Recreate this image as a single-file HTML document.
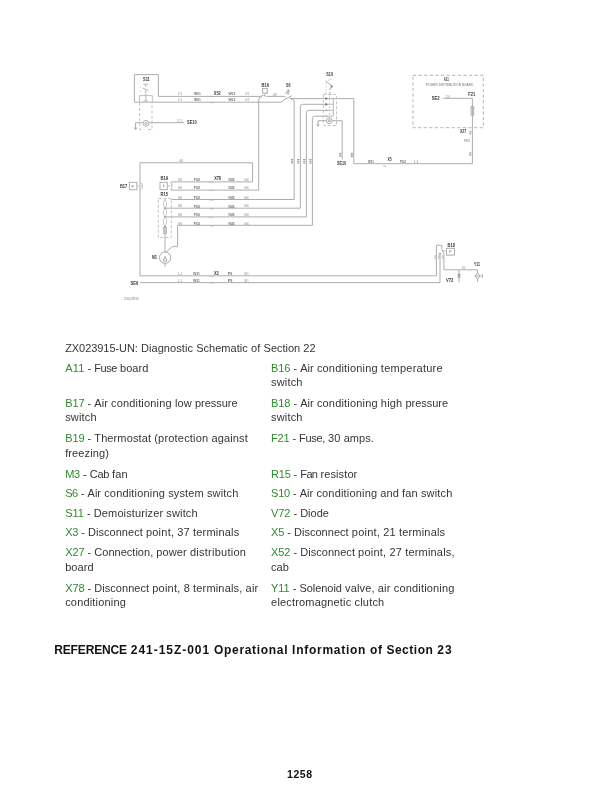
<!DOCTYPE html>
<html><head><meta charset="utf-8"><title>Diagnostic Schematic of Section 22</title>
<style>
html,body{margin:0;padding:0;background:#fff;}
body{width:600px;height:806px;position:relative;overflow:hidden;font-family:"Liberation Sans",sans-serif;}
.sch{position:absolute;left:0;top:0;will-change:transform;}
.t{position:absolute;white-space:pre;font-size:11.0px;line-height:11.0px;color:#353535;}
.g{color:#2e8b2e;}
.w{position:absolute;left:0;top:0;white-space:pre;}
.pg{position:absolute;left:0;top:0;width:600px;height:806px;will-change:transform;}
.h{position:absolute;white-space:pre;font-weight:bold;color:#111;}
</style></head><body><div class="pg">
<svg class="sch" width="600" height="320" viewBox="0 0 600 320"><g fill="none" stroke-linecap="butt"><path d="M134.4 102.2 V74.6 H158.4 V96.4 H260.5" stroke="#adadad" stroke-width="1.0"/>
<path d="M134.4 102.2 H280.5 Q283 102.2 284.2 99.6" stroke="#adadad" stroke-width="1.0"/>
<path d="M139.4 102 V95.6 H152.3 V102 M145.8 95.6 V102 M143.5 102 L145.8 99.5 L148.2 102" stroke="#bdbdbd" stroke-width="1.0"/>
<path d="M145.8 95.6 V93.6 M143.4 84.2 H148 M145.7 84.5 V87 M142.5 88 L148.5 90.5 M145.7 90.5 V93" stroke="#b5b5b5" stroke-width="1.0"/>
<path d="M140 87.2 H141 M140 91 H141" stroke="#c0c0c0" stroke-width="1.0"/>
<path d="M139.7 103 V129.5 H143.5 M148 129.5 H152 V103" stroke="#c0c0c0" stroke-width="1.0" stroke-dasharray="3 2"/>
<circle cx="146" cy="123.3" r="2.9" stroke="#b0b0b0"/>
<circle cx="146" cy="123.3" r="1.6" fill="#c4c4c4" stroke="none"/>
<path d="M135.6 122.7 H143.1 M148.9 122.7 H184" stroke="#adadad" stroke-width="1.0"/>
<path d="M135.6 122.7 V129 M134.4 127.6 L135.6 129.6 L136.8 127.6" stroke="#a8a8a8" stroke-width="1.0"/>
<rect x="262.6" y="88.6" width="4.6" height="4.6" stroke="#aaaaaa" stroke-width="1.0"/>
<path d="M264.9 93.2 V95" stroke="#bdbdbd" stroke-width="1.0"/>
<path d="M260.5 96.4 Q263.3 94.2 266.5 96.4 H285.5" stroke="#adadad" stroke-width="1.0"/>
<path d="M262 96.6 Q258.7 96.8 258.7 100 V190.1 H171" stroke="#adadad" stroke-width="1.0"/>
<path d="M284.2 99.6 L291.5 95.8 M288.2 89 V95 M286.6 91.2 H290 M285.2 93 H288" stroke="#a9a9a9" stroke-width="1.0"/>
<path d="M289.5 98.6 H323.4" stroke="#adadad" stroke-width="1.0"/>
<path d="M290.5 98.6 Q294.2 98.6 294.2 102 V199.5 H171" stroke="#adadad" stroke-width="1.0"/>
<path d="M300.3 208.2 V106.5 Q300.3 104.3 302.5 104.3 H326" stroke="#adadad" stroke-width="1.0"/>
<path d="M306.4 216.9 V112.5 Q306.4 110.3 308.6 110.3 H326" stroke="#adadad" stroke-width="1.0"/>
<path d="M312.4 225.3 V118.4 Q312.4 116.2 314.6 116.2 H326" stroke="#adadad" stroke-width="1.0"/>
<path d="M177.6 225.3 H312.4" stroke="#adadad" stroke-width="1.0"/>
<path d="M177.6 225.3 V246.6 H172.5 L166.2 251.9" stroke="#adadad" stroke-width="1.0"/>
<path d="M323.4 98.6 H353.8 V163.7 H472.4 V98.3 H443" stroke="#adadad" stroke-width="1.0"/>
<path d="M333.3 98.6 V116.2 M327 104.3 H333.3 M327 110.3 H333.3 M327 116.2 H333.3" stroke="#b8b8b8" stroke-width="1.0"/>
<rect x="323.3" y="94.5" width="13.2" height="31" stroke="#c2c2c2" stroke-width="1.0" stroke-dasharray="3 2"/>
<path d="M329.6 92 V117.5" stroke="#c6c6c6" stroke-width="0.9" stroke-dasharray="2 1.5"/>
<path d="M325.4 97.0 L328 98.6 L325.4 100.19999999999999 Z" fill="#777" stroke="none"/>
<path d="M325.4 102.7 L328 104.3 L325.4 105.89999999999999 Z" fill="#777" stroke="none"/>
<path d="M325.8 109.2 L327.6 110.3 L325.8 111.39999999999999 Z" fill="#999" stroke="none"/>
<path d="M325.8 115.10000000000001 L327.6 116.2 L325.8 117.3 Z" fill="#999" stroke="none"/>
<circle cx="329.3" cy="120.7" r="2.9" stroke="#a8a8a8"/>
<circle cx="329.3" cy="120.7" r="1.6" fill="#c0c0c0" stroke="none"/>
<path d="M318 120.7 H326.4 M332.2 120.7 H342.2 V159.5" stroke="#adadad" stroke-width="1.0"/>
<path d="M318 120.7 V125.6 M316.9 124.3 L318 126.2 L319.1 124.3" stroke="#a8a8a8" stroke-width="1.0"/>
<path d="M326 81.2 L332.5 86.5 L329.3 90" stroke="#a6a6a6" stroke-width="1.0"/>
<path d="M326 80 V92" stroke="#c8c8c8" stroke-width="0.9" stroke-dasharray="1.5 1.5"/>
<path d="M328.3 80.2 L331.6 79.2" stroke="#c0c0c0" stroke-width="0.8"/>
<path d="M330.6 85 L333.2 86.6 L330.9 88.2 Z" fill="#8a8a8a" stroke="none"/>
<path d="M325.9 92 V95 M330.2 92 V95" stroke="#c4c4c4" stroke-width="0.9"/>
<rect x="413" y="75.3" width="70.3" height="52.4" stroke="#b5b5b5" stroke-width="1.0" stroke-dasharray="3.2 2.4"/>
<rect x="471.1" y="106.6" width="2.6" height="8.4" stroke="#a8a8a8" stroke-width="1.0"/>
<path d="M140 275.8 V162.8 H252.6 V181.9 H171" stroke="#adadad" stroke-width="1.0"/>
<rect x="129.4" y="182.3" width="7.4" height="7.4" stroke="#b0b0b0" stroke-width="1.0"/>
<rect x="160" y="182.3" width="7.3" height="7.4" stroke="#b0b0b0" stroke-width="1.0"/>
<path d="M136.8 186 H139" stroke="#c8c8c8" stroke-width="1.0"/>
<path d="M141 182.6 L142.2 183.8 V188.4 L141 189.6" stroke="#b5b5b5" stroke-width="1.0"/>
<path d="M170.4 182 L171.8 183.6 V188.4 L170.4 190 M167.3 186 H170" stroke="#b5b5b5" stroke-width="1.0"/>
<path d="M165.2 208.2 H300.3 M165.2 216.9 H306.4" stroke="#adadad" stroke-width="1.0"/>
<rect x="158.3" y="198.3" width="13" height="39.2" stroke="#c2c2c2" stroke-width="1.0" stroke-dasharray="3 2"/>
<path d="M165 198.8 V200 M165 207.6 V208.6 M165 216.2 V217.2 M165 225.8 V227.2 M165 233.6 V252" stroke="#adadad" stroke-width="1.0"/>
<ellipse cx="165" cy="203.8" rx="1.6" ry="3.799999999999997" stroke="#c2c2c2" stroke-width="0.9"/>
<ellipse cx="165" cy="212.39999999999998" rx="1.6" ry="3.799999999999997" stroke="#c2c2c2" stroke-width="0.9"/>
<ellipse cx="165" cy="221.5" rx="1.6" ry="4.300000000000011" stroke="#c2c2c2" stroke-width="0.9"/>
<rect x="163.7" y="227.2" width="2.6" height="6.4" fill="#c8c8c8" stroke="#a8a8a8" stroke-width="0.8"/>
<circle cx="165" cy="208.2" r="0.9" fill="#999" stroke="none"/>
<circle cx="165" cy="216.9" r="0.9" fill="#999" stroke="none"/>
<circle cx="165" cy="226.5" r="0.9" fill="#999" stroke="none"/>
<circle cx="165.1" cy="257.6" r="5.7" stroke="#a6a6a6"/>
<path d="M163.2 261 L165.1 256.4 L167 261 Z M165.1 263.3 V266.5" stroke="#a8a8a8" stroke-width="1.0"/>
<path d="M140 275.8 H436.4 V245.3 H441.7 V248.8 L443.9 254 V269.8 H477.6 V273" stroke="#adadad" stroke-width="1.0"/>
<path d="M444.2 251.6 H446.4" stroke="#c4c4c4" stroke-width="0.8"/>
<circle cx="440" cy="253.6" r="0.9" fill="#888" stroke="none"/>
<path d="M477.6 279 V282" stroke="#adadad" stroke-width="1.0"/>
<path d="M140.2 282.6 H440 V253.8" stroke="#adadad" stroke-width="1.0"/>
<rect x="446.5" y="248.3" width="8.0" height="6.8" stroke="#acacac" stroke-width="1.0"/>
<path d="M459 270 V282.2 M457 277 H461" stroke="#a8a8a8" stroke-width="1.0"/>
<path d="M457.2 274 H460.8 L459 276.8 Z" fill="#999" stroke="none"/>
<path d="M477.6 273 L480.3 276 L477.6 279 L474.9 276 Z M482.2 274 V278 M474.9 276 H480.3" stroke="#a8a8a8" stroke-width="1.0"/>
<path d="M442.6 251 L444.5 250" stroke="#b0b0b0" stroke-width="1.0"/>
<path d="M383 166 H385 L386.3 166.8" stroke="#b0b0b0" stroke-width="0.8"/>
<path d="M209.5 96.39999999999999 H212 L213.3 97.19999999999999" stroke="#b0b0b0" stroke-width="0.8"/>
<path d="M209.5 102.39999999999999 H212 L213.3 103.19999999999999" stroke="#b0b0b0" stroke-width="0.8"/>
<path d="M209.5 181.9 H211.5 L213 182.8" stroke="#b0b0b0" stroke-width="0.8"/>
<path d="M209.5 190.1 H211.5 L213 191.0" stroke="#b0b0b0" stroke-width="0.8"/>
<path d="M209.5 200.0 H211.5 L213 200.9" stroke="#b0b0b0" stroke-width="0.8"/>
<path d="M209.5 208.7 H211.5 L213 209.6" stroke="#b0b0b0" stroke-width="0.8"/>
<path d="M209.5 217.3 H211.5 L213 218.20000000000002" stroke="#b0b0b0" stroke-width="0.8"/>
<path d="M209.5 225.8 H211.5 L213 226.70000000000002" stroke="#b0b0b0" stroke-width="0.8"/>
<path d="M209.5 276.09999999999997 H211.5 L213 277.09999999999997" stroke="#b0b0b0" stroke-width="0.8"/>
<path d="M209.5 282.9 H211.5 L213 283.9" stroke="#b0b0b0" stroke-width="0.8"/></g><g font-family="Liberation Sans, sans-serif"><text x="143.0" y="81.30" font-size="5.0" fill="#383838" font-weight="bold" textLength="6.8" lengthAdjust="spacingAndGlyphs">S11</text>
<text x="261.5" y="86.60" font-size="5.0" fill="#383838" font-weight="bold" textLength="7.5" lengthAdjust="spacingAndGlyphs">B16</text>
<text x="286.0" y="87.00" font-size="5.0" fill="#383838" font-weight="bold" textLength="4.5" lengthAdjust="spacingAndGlyphs">S6</text>
<text x="326.3" y="76.30" font-size="5.0" fill="#383838" font-weight="bold" textLength="6.7" lengthAdjust="spacingAndGlyphs">S10</text>
<text x="443.7" y="81.00" font-size="5.0" fill="#383838" font-weight="bold" textLength="5.0" lengthAdjust="spacingAndGlyphs">A11</text>
<text x="431.7" y="100.10" font-size="5.0" fill="#383838" font-weight="bold" textLength="8.0" lengthAdjust="spacingAndGlyphs">SE2</text>
<text x="468.3" y="96.00" font-size="5.0" fill="#383838" font-weight="bold" textLength="7.0" lengthAdjust="spacingAndGlyphs">F21</text>
<text x="460.0" y="133.10" font-size="5.0" fill="#383838" font-weight="bold" textLength="6.3" lengthAdjust="spacingAndGlyphs">X27</text>
<text x="187.0" y="124.30" font-size="5.0" fill="#383838" font-weight="bold" textLength="9.7" lengthAdjust="spacingAndGlyphs">SE10</text>
<text x="337.0" y="165.30" font-size="5.0" fill="#383838" font-weight="bold" textLength="9.0" lengthAdjust="spacingAndGlyphs">SE10</text>
<text x="387.6" y="161.20" font-size="5.0" fill="#383838" font-weight="bold" textLength="4.0" lengthAdjust="spacingAndGlyphs">X5</text>
<text x="213.8" y="94.50" font-size="5.0" fill="#383838" font-weight="bold" textLength="6.9" lengthAdjust="spacingAndGlyphs">X52</text>
<text x="214.2" y="180.10" font-size="5.0" fill="#383838" font-weight="bold" textLength="6.8" lengthAdjust="spacingAndGlyphs">X78</text>
<text x="214.0" y="275.30" font-size="5.0" fill="#383838" font-weight="bold" textLength="4.7" lengthAdjust="spacingAndGlyphs">X3</text>
<text x="119.9" y="187.80" font-size="5.0" fill="#383838" font-weight="bold" textLength="7.4" lengthAdjust="spacingAndGlyphs">B17</text>
<text x="160.5" y="180.20" font-size="5.0" fill="#383838" font-weight="bold" textLength="7.6" lengthAdjust="spacingAndGlyphs">B19</text>
<text x="160.5" y="196.00" font-size="5.0" fill="#383838" font-weight="bold" textLength="7.5" lengthAdjust="spacingAndGlyphs">R15</text>
<text x="152.0" y="258.80" font-size="5.0" fill="#383838" font-weight="bold" textLength="4.7" lengthAdjust="spacingAndGlyphs">M3</text>
<text x="447.6" y="246.80" font-size="5.0" fill="#383838" font-weight="bold" textLength="7.4" lengthAdjust="spacingAndGlyphs">B18</text>
<text x="446.0" y="281.50" font-size="5.0" fill="#383838" font-weight="bold" textLength="7.3" lengthAdjust="spacingAndGlyphs">V72</text>
<text x="474.0" y="265.80" font-size="5.0" fill="#383838" font-weight="bold" textLength="6.0" lengthAdjust="spacingAndGlyphs">Y11</text>
<text x="130.5" y="284.60" font-size="5.0" fill="#383838" font-weight="bold" textLength="7.7" lengthAdjust="spacingAndGlyphs">SE6</text>
<text x="425.8" y="86.00" font-size="3.6" fill="#6e6e6e" textLength="47.5" lengthAdjust="spacingAndGlyphs">POWER DISTRIBUTION BOARD</text>
<text x="124.0" y="299.90" font-size="3.9" fill="#7a7a7a" textLength="14.8" lengthAdjust="spacingAndGlyphs">ZX023915</text>
<text x="131.4" y="187.50" font-size="3.6" fill="#666" textLength="2.6" lengthAdjust="spacingAndGlyphs">P</text>
<text x="449.0" y="253.10" font-size="3.6" fill="#666" textLength="2.6" lengthAdjust="spacingAndGlyphs">P</text>
<text x="478.0" y="253.10" font-size="3.6" fill="#666" textLength="0.1" lengthAdjust="spacingAndGlyphs"></text>
<text x="162.8" y="187.42" font-size="3.4" fill="#777" textLength="1.8" lengthAdjust="spacingAndGlyphs">t</text>
<text x="177.5" y="94.86" font-size="3.5" fill="#888888" textLength="4.5" lengthAdjust="spacingAndGlyphs">1#1</text>
<text x="194.0" y="94.97" font-size="3.8" fill="#6e6e6e" font-weight="bold" textLength="6.7" lengthAdjust="spacingAndGlyphs">W01</text>
<text x="228.5" y="94.97" font-size="3.8" fill="#6e6e6e" font-weight="bold" textLength="6.7" lengthAdjust="spacingAndGlyphs">W03</text>
<text x="245.0" y="94.86" font-size="3.5" fill="#888888" textLength="4.5" lengthAdjust="spacingAndGlyphs">0#1</text>
<text x="177.5" y="100.86" font-size="3.5" fill="#888888" textLength="4.5" lengthAdjust="spacingAndGlyphs">1#1</text>
<text x="194.0" y="100.97" font-size="3.8" fill="#6e6e6e" font-weight="bold" textLength="6.7" lengthAdjust="spacingAndGlyphs">W01</text>
<text x="228.5" y="100.97" font-size="3.8" fill="#6e6e6e" font-weight="bold" textLength="6.7" lengthAdjust="spacingAndGlyphs">W03</text>
<text x="245.0" y="100.86" font-size="3.5" fill="#888888" textLength="4.5" lengthAdjust="spacingAndGlyphs">0#1</text>
<text x="272.4" y="96.26" font-size="3.5" fill="#888888" textLength="4.5" lengthAdjust="spacingAndGlyphs">12H</text>
<text x="177.0" y="121.86" font-size="3.5" fill="#888888" textLength="5.0" lengthAdjust="spacingAndGlyphs">1C1</text>
<text x="177.9" y="180.66" font-size="3.5" fill="#888888" textLength="4.0" lengthAdjust="spacingAndGlyphs">5B0</text>
<text x="193.8" y="180.77" font-size="3.8" fill="#6e6e6e" font-weight="bold" textLength="6.2" lengthAdjust="spacingAndGlyphs">PU5</text>
<text x="228.4" y="180.77" font-size="3.8" fill="#6e6e6e" font-weight="bold" textLength="6.2" lengthAdjust="spacingAndGlyphs">NU5</text>
<text x="244.0" y="180.66" font-size="3.5" fill="#888888" textLength="4.6" lengthAdjust="spacingAndGlyphs">0S6</text>
<text x="177.9" y="188.86" font-size="3.5" fill="#888888" textLength="4.0" lengthAdjust="spacingAndGlyphs">5B0</text>
<text x="193.8" y="188.97" font-size="3.8" fill="#6e6e6e" font-weight="bold" textLength="6.2" lengthAdjust="spacingAndGlyphs">PU5</text>
<text x="228.4" y="188.97" font-size="3.8" fill="#6e6e6e" font-weight="bold" textLength="6.2" lengthAdjust="spacingAndGlyphs">NU5</text>
<text x="244.0" y="188.86" font-size="3.5" fill="#888888" textLength="4.6" lengthAdjust="spacingAndGlyphs">0S6</text>
<text x="177.9" y="198.76" font-size="3.5" fill="#888888" textLength="4.0" lengthAdjust="spacingAndGlyphs">5B0</text>
<text x="193.8" y="198.87" font-size="3.8" fill="#6e6e6e" font-weight="bold" textLength="6.2" lengthAdjust="spacingAndGlyphs">PU5</text>
<text x="228.4" y="198.87" font-size="3.8" fill="#6e6e6e" font-weight="bold" textLength="6.2" lengthAdjust="spacingAndGlyphs">NU5</text>
<text x="244.0" y="198.76" font-size="3.5" fill="#888888" textLength="4.6" lengthAdjust="spacingAndGlyphs">0S6</text>
<text x="177.9" y="207.46" font-size="3.5" fill="#888888" textLength="4.0" lengthAdjust="spacingAndGlyphs">5B0</text>
<text x="193.8" y="207.57" font-size="3.8" fill="#6e6e6e" font-weight="bold" textLength="6.2" lengthAdjust="spacingAndGlyphs">PU5</text>
<text x="228.4" y="207.57" font-size="3.8" fill="#6e6e6e" font-weight="bold" textLength="6.2" lengthAdjust="spacingAndGlyphs">NU5</text>
<text x="244.0" y="207.46" font-size="3.5" fill="#888888" textLength="4.6" lengthAdjust="spacingAndGlyphs">0S6</text>
<text x="177.9" y="216.06" font-size="3.5" fill="#888888" textLength="4.0" lengthAdjust="spacingAndGlyphs">5B0</text>
<text x="193.8" y="216.17" font-size="3.8" fill="#6e6e6e" font-weight="bold" textLength="6.2" lengthAdjust="spacingAndGlyphs">PU5</text>
<text x="228.4" y="216.17" font-size="3.8" fill="#6e6e6e" font-weight="bold" textLength="6.2" lengthAdjust="spacingAndGlyphs">NU5</text>
<text x="244.0" y="216.06" font-size="3.5" fill="#888888" textLength="4.6" lengthAdjust="spacingAndGlyphs">0S6</text>
<text x="177.9" y="224.56" font-size="3.5" fill="#888888" textLength="4.0" lengthAdjust="spacingAndGlyphs">5B0</text>
<text x="193.8" y="224.67" font-size="3.8" fill="#6e6e6e" font-weight="bold" textLength="6.2" lengthAdjust="spacingAndGlyphs">PU5</text>
<text x="228.4" y="224.67" font-size="3.8" fill="#6e6e6e" font-weight="bold" textLength="6.2" lengthAdjust="spacingAndGlyphs">NU5</text>
<text x="244.0" y="224.56" font-size="3.5" fill="#888888" textLength="4.6" lengthAdjust="spacingAndGlyphs">0S6</text>
<text x="177.5" y="275.16" font-size="3.5" fill="#888888" textLength="4.3" lengthAdjust="spacingAndGlyphs">1-1</text>
<text x="193.2" y="275.27" font-size="3.8" fill="#6e6e6e" font-weight="bold" textLength="6.5" lengthAdjust="spacingAndGlyphs">W31</text>
<text x="227.7" y="275.27" font-size="3.8" fill="#6e6e6e" font-weight="bold" textLength="4.5" lengthAdjust="spacingAndGlyphs">P9</text>
<text x="244.2" y="275.16" font-size="3.5" fill="#888888" textLength="4.5" lengthAdjust="spacingAndGlyphs">0K1</text>
<text x="177.5" y="281.96" font-size="3.5" fill="#888888" textLength="4.3" lengthAdjust="spacingAndGlyphs">1-1</text>
<text x="193.2" y="282.07" font-size="3.8" fill="#6e6e6e" font-weight="bold" textLength="6.5" lengthAdjust="spacingAndGlyphs">W31</text>
<text x="227.7" y="282.07" font-size="3.8" fill="#6e6e6e" font-weight="bold" textLength="4.5" lengthAdjust="spacingAndGlyphs">P9</text>
<text x="244.2" y="281.96" font-size="3.5" fill="#888888" textLength="4.5" lengthAdjust="spacingAndGlyphs">0K1</text>
<text x="179.0" y="162.26" font-size="3.5" fill="#888888" textLength="4.2" lengthAdjust="spacingAndGlyphs">000</text>
<text x="368.0" y="163.07" font-size="3.8" fill="#6e6e6e" font-weight="bold" textLength="6.0" lengthAdjust="spacingAndGlyphs">W11</text>
<text x="400.0" y="162.97" font-size="3.8" fill="#6e6e6e" font-weight="bold" textLength="6.0" lengthAdjust="spacingAndGlyphs">PU2</text>
<text x="414.0" y="162.86" font-size="3.5" fill="#888888" textLength="4.0" lengthAdjust="spacingAndGlyphs">1-3</text>
<text x="464.0" y="142.08" font-size="3.0" fill="#6e6e6e" textLength="6.0" lengthAdjust="spacingAndGlyphs">PK01</text>
<text x="446.0" y="97.56" font-size="3.5" fill="#888888" textLength="4.0" lengthAdjust="spacingAndGlyphs">150</text>
<text x="461.5" y="269.46" font-size="3.5" fill="#888888" textLength="3.8" lengthAdjust="spacingAndGlyphs">150</text>
<rect x="291.00" y="159.00" width="2.2" height="1.13" fill="#9e9e9e"/>
<rect x="291.00" y="160.73" width="2.2" height="1.13" fill="#9e9e9e"/>
<rect x="291.00" y="162.47" width="2.2" height="1.13" fill="#9e9e9e"/>
<rect x="297.10" y="159.00" width="2.2" height="1.13" fill="#9e9e9e"/>
<rect x="297.10" y="160.73" width="2.2" height="1.13" fill="#9e9e9e"/>
<rect x="297.10" y="162.47" width="2.2" height="1.13" fill="#9e9e9e"/>
<rect x="303.20" y="159.00" width="2.2" height="1.13" fill="#9e9e9e"/>
<rect x="303.20" y="160.73" width="2.2" height="1.13" fill="#9e9e9e"/>
<rect x="303.20" y="162.47" width="2.2" height="1.13" fill="#9e9e9e"/>
<rect x="309.30" y="159.00" width="2.2" height="1.13" fill="#9e9e9e"/>
<rect x="309.30" y="160.73" width="2.2" height="1.13" fill="#9e9e9e"/>
<rect x="309.30" y="162.47" width="2.2" height="1.13" fill="#9e9e9e"/>
<rect x="339.20" y="152.80" width="2.2" height="1.65" fill="#a8a8a8"/>
<rect x="339.20" y="155.05" width="2.2" height="1.65" fill="#a8a8a8"/>
<rect x="350.70" y="152.80" width="2.2" height="1.90" fill="#a8a8a8"/>
<rect x="350.70" y="155.30" width="2.2" height="1.90" fill="#a8a8a8"/>
<rect x="469.30" y="130.80" width="2.2" height="1.40" fill="#b0b0b0"/>
<rect x="469.30" y="132.80" width="2.2" height="1.40" fill="#b0b0b0"/>
<rect x="469.10" y="152.30" width="2.2" height="1.40" fill="#a8a8a8"/>
<rect x="469.10" y="154.30" width="2.2" height="1.40" fill="#a8a8a8"/>
<rect x="434.30" y="255.30" width="2.2" height="1.40" fill="#c0c0c0"/>
<rect x="434.30" y="257.30" width="2.2" height="1.40" fill="#c0c0c0"/>
<rect x="437.90" y="255.30" width="2.2" height="1.40" fill="#c0c0c0"/>
<rect x="437.90" y="257.30" width="2.2" height="1.40" fill="#c0c0c0"/>
<rect x="441.80" y="255.30" width="2.2" height="1.40" fill="#c0c0c0"/>
<rect x="441.80" y="257.30" width="2.2" height="1.40" fill="#c0c0c0"/></g></svg>
<div class="t" style="left:65.20px;top:343.15px"><span class="w" style="left:-0.01px;letter-spacing:-0.062px">ZX023915-UN:</span><span class="w" style="left:75.74px;letter-spacing:0.072px">Diagnostic</span><span class="w" style="left:130.94px;letter-spacing:0.035px">Schematic</span><span class="w" style="left:185.74px;letter-spacing:0.164px">of</span><span class="w" style="left:198.38px;letter-spacing:-0.009px">Section</span><span class="w" style="left:238.14px;letter-spacing:0.156px">22</span></div>
<div class="t" style="left:65.20px;top:362.55px"><span class="w g" style="left:-0.01px;letter-spacing:0.177px">A11</span><span class="w" style="left:22.41px;letter-spacing:-0.094px">-</span><span class="w" style="left:29.10px;letter-spacing:-0.465px">Fuse</span><span class="w" style="left:54.82px;letter-spacing:0.069px">board</span></div>
<div class="t" style="left:271.10px;top:362.55px"><span class="w g" style="left:-0.01px;letter-spacing:-0.089px">B16</span><span class="w" style="left:22.43px;letter-spacing:-0.094px">-</span><span class="w" style="left:29.12px;letter-spacing:0.036px">Air</span><span class="w" style="left:45.79px;letter-spacing:0.178px">conditioning</span><span class="w" style="left:109.76px;letter-spacing:0.243px">temperature</span></div>
<div class="t" style="left:271.10px;top:377.15px"><span class="w" style="left:-0.01px;letter-spacing:0.154px">switch</span></div>
<div class="t" style="left:65.20px;top:397.90px"><span class="w g" style="left:-0.01px;letter-spacing:-0.089px">B17</span><span class="w" style="left:22.42px;letter-spacing:-0.094px">-</span><span class="w" style="left:29.11px;letter-spacing:0.036px">Air</span><span class="w" style="left:45.78px;letter-spacing:0.178px">conditioning</span><span class="w" style="left:109.75px;letter-spacing:0.115px">low</span><span class="w" style="left:129.72px;letter-spacing:-0.023px">pressure</span></div>
<div class="t" style="left:65.20px;top:412.15px"><span class="w" style="left:-0.01px;letter-spacing:0.154px">switch</span></div>
<div class="t" style="left:271.10px;top:397.90px"><span class="w g" style="left:-0.01px;letter-spacing:-0.089px">B18</span><span class="w" style="left:22.43px;letter-spacing:-0.094px">-</span><span class="w" style="left:29.12px;letter-spacing:0.036px">Air</span><span class="w" style="left:45.79px;letter-spacing:0.178px">conditioning</span><span class="w" style="left:109.76px;letter-spacing:0.180px">high</span><span class="w" style="left:134.38px;letter-spacing:-0.023px">pressure</span></div>
<div class="t" style="left:271.10px;top:412.15px"><span class="w" style="left:-0.01px;letter-spacing:0.154px">switch</span></div>
<div class="t" style="left:65.20px;top:433.40px"><span class="w g" style="left:-0.01px;letter-spacing:-0.089px">B19</span><span class="w" style="left:22.42px;letter-spacing:-0.094px">-</span><span class="w" style="left:29.11px;letter-spacing:0.114px">Thermostat</span><span class="w" style="left:89.02px;letter-spacing:0.203px">(protection</span><span class="w" style="left:146.36px;letter-spacing:0.123px">against</span></div>
<div class="t" style="left:65.20px;top:447.65px"><span class="w" style="left:-0.01px;letter-spacing:0.102px">freezing)</span></div>
<div class="t" style="left:271.10px;top:433.40px"><span class="w g" style="left:-0.01px;letter-spacing:-0.250px">F21</span><span class="w" style="left:21.34px;letter-spacing:-0.094px">-</span><span class="w" style="left:28.02px;letter-spacing:-0.356px">Fuse,</span><span class="w" style="left:56.88px;letter-spacing:0.156px">30</span><span class="w" style="left:72.56px;letter-spacing:0.044px">amps.</span></div>
<div class="t" style="left:65.20px;top:468.65px"><span class="w g" style="left:-0.01px;letter-spacing:-0.250px">M3</span><span class="w" style="left:17.89px;letter-spacing:-0.094px">-</span><span class="w" style="left:24.58px;letter-spacing:-0.328px">Cab</span><span class="w" style="left:46.91px;letter-spacing:0.156px">fan</span></div>
<div class="t" style="left:271.10px;top:468.65px"><span class="w g" style="left:-0.01px;letter-spacing:-0.260px">R15</span><span class="w" style="left:22.52px;letter-spacing:-0.094px">-</span><span class="w" style="left:29.21px;letter-spacing:-0.630px">Fan</span><span class="w" style="left:49.40px;letter-spacing:0.104px">resistor</span></div>
<div class="t" style="left:65.20px;top:488.45px"><span class="w g" style="left:-0.01px;letter-spacing:-0.469px">S6</span><span class="w" style="left:15.64px;letter-spacing:-0.094px">-</span><span class="w" style="left:22.33px;letter-spacing:0.036px">Air</span><span class="w" style="left:39.00px;letter-spacing:0.178px">conditioning</span><span class="w" style="left:102.97px;letter-spacing:0.135px">system</span><span class="w" style="left:141.75px;letter-spacing:0.154px">switch</span></div>
<div class="t" style="left:271.10px;top:488.45px"><span class="w g" style="left:-0.01px;letter-spacing:-0.255px">S10</span><span class="w" style="left:21.93px;letter-spacing:-0.094px">-</span><span class="w" style="left:28.62px;letter-spacing:0.036px">Air</span><span class="w" style="left:45.29px;letter-spacing:0.178px">conditioning</span><span class="w" style="left:109.26px;letter-spacing:0.068px">and</span><span class="w" style="left:130.95px;letter-spacing:0.161px">fan</span><span class="w" style="left:149.84px;letter-spacing:0.156px">switch</span></div>
<div class="t" style="left:65.20px;top:507.65px"><span class="w g" style="left:-0.01px;letter-spacing:0.016px">S11</span><span class="w" style="left:21.92px;letter-spacing:-0.094px">-</span><span class="w" style="left:28.61px;letter-spacing:0.118px">Demoisturizer</span><span class="w" style="left:101.13px;letter-spacing:0.154px">switch</span></div>
<div class="t" style="left:271.10px;top:507.65px"><span class="w g" style="left:-0.01px;letter-spacing:-0.094px">V72</span><span class="w" style="left:22.42px;letter-spacing:-0.094px">-</span><span class="w" style="left:29.10px;letter-spacing:-0.009px">Diode</span></div>
<div class="t" style="left:65.20px;top:527.25px"><span class="w g" style="left:-0.01px;letter-spacing:-0.219px">X3</span><span class="w" style="left:16.14px;letter-spacing:-0.094px">-</span><span class="w" style="left:22.83px;letter-spacing:0.037px">Disconnect</span><span class="w" style="left:80.74px;letter-spacing:0.229px">point,</span><span class="w" style="left:112.16px;letter-spacing:0.156px">37</span><span class="w" style="left:127.83px;letter-spacing:0.191px">terminals</span></div>
<div class="t" style="left:271.10px;top:527.25px"><span class="w g" style="left:-0.01px;letter-spacing:-0.219px">X5</span><span class="w" style="left:16.15px;letter-spacing:-0.094px">-</span><span class="w" style="left:22.84px;letter-spacing:0.037px">Disconnect</span><span class="w" style="left:80.74px;letter-spacing:0.229px">point,</span><span class="w" style="left:112.17px;letter-spacing:0.156px">21</span><span class="w" style="left:127.84px;letter-spacing:0.191px">terminals</span></div>
<div class="t" style="left:65.20px;top:547.25px"><span class="w g" style="left:-0.01px;letter-spacing:-0.089px">X27</span><span class="w" style="left:22.42px;letter-spacing:-0.094px">-</span><span class="w" style="left:29.11px;letter-spacing:0.020px">Connection,</span><span class="w" style="left:91.17px;letter-spacing:0.103px">power</span><span class="w" style="left:124.78px;letter-spacing:0.250px">distribution</span></div>
<div class="t" style="left:65.20px;top:562.05px"><span class="w" style="left:-0.01px;letter-spacing:0.069px">board</span></div>
<div class="t" style="left:271.10px;top:547.25px"><span class="w g" style="left:-0.01px;letter-spacing:-0.089px">X52</span><span class="w" style="left:22.43px;letter-spacing:-0.094px">-</span><span class="w" style="left:29.12px;letter-spacing:0.037px">Disconnect</span><span class="w" style="left:87.02px;letter-spacing:0.229px">point,</span><span class="w" style="left:118.45px;letter-spacing:0.156px">27</span><span class="w" style="left:134.12px;letter-spacing:0.178px">terminals,</span></div>
<div class="t" style="left:271.10px;top:562.05px"><span class="w" style="left:-0.01px;letter-spacing:-0.005px">cab</span></div>
<div class="t" style="left:65.20px;top:582.65px"><span class="w g" style="left:-0.01px;letter-spacing:-0.089px">X78</span><span class="w" style="left:22.42px;letter-spacing:-0.094px">-</span><span class="w" style="left:29.11px;letter-spacing:0.037px">Disconnect</span><span class="w" style="left:87.02px;letter-spacing:0.229px">point,</span><span class="w" style="left:118.44px;letter-spacing:0.156px">8</span><span class="w" style="left:127.85px;letter-spacing:0.178px">terminals,</span><span class="w" style="left:180.43px;letter-spacing:0.208px">air</span></div>
<div class="t" style="left:65.20px;top:597.45px"><span class="w" style="left:-0.01px;letter-spacing:0.177px">conditioning</span></div>
<div class="t" style="left:271.10px;top:582.65px"><span class="w g" style="left:-0.01px;letter-spacing:-0.062px">Y11</span><span class="w" style="left:21.70px;letter-spacing:-0.094px">-</span><span class="w" style="left:28.38px;letter-spacing:-0.055px">Solenoid</span><span class="w" style="left:73.90px;letter-spacing:0.151px">valve,</span><span class="w" style="left:106.68px;letter-spacing:0.203px">air</span><span class="w" style="left:122.65px;letter-spacing:0.177px">conditioning</span></div>
<div class="t" style="left:271.10px;top:597.45px"><span class="w" style="left:-0.01px;letter-spacing:0.175px">electromagnetic</span><span class="w" style="left:83.38px;letter-spacing:0.203px">clutch</span></div>
<div class="h" style="left:54.20px;top:643.50px;font-size:12.0px;line-height:12.0px"><span class="w" style="left:-0.01px;letter-spacing:-0.134px">REFERENCE</span><span class="w" style="left:76.67px;letter-spacing:0.959px">241-15Z-001</span><span class="w" style="left:159.82px;letter-spacing:0.682px">Operational</span><span class="w" style="left:237.88px;letter-spacing:0.732px">Information</span><span class="w" style="left:315.78px;letter-spacing:0.609px">of</span><span class="w" style="left:332.19px;letter-spacing:0.522px">Section</span><span class="w" style="left:383.05px;letter-spacing:1.094px">23</span></div>
<div class="h" style="left:287.00px;top:769.38px;font-size:10.5px;line-height:10.5px"><span class="w" style="left:0.00px;letter-spacing:0.555px">1258</span></div>
</div></body></html>
